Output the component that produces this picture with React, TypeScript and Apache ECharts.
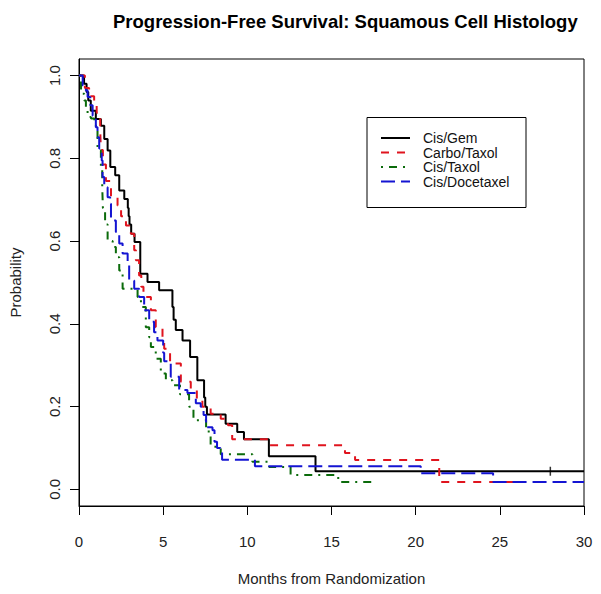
import React, { useEffect, useRef } from "react";
import * as echarts from "echarts";

const FONT = "'Liberation Sans', Arial, sans-serif";

const titleText = "Progression-Free Survival: Squamous Cell Histology";
const xName = "Months from Randomization";
const yName = "Probability";

const seriesNames = ["Cis/Gem", "Carbo/Taxol", "Cis/Taxol", "Cis/Docetaxel"];
const seriesColors = ["#000000", "#e0141e", "#0b6b0b", "#1414d2"];
const seriesDash: (number[] | "solid")[] = ["solid", [8, 8], [2, 6, 8, 6], [14, 6]];

const xTicks = [0, 5, 10, 15, 20, 25, 30];
const yTicks = [0, 0.2, 0.4, 0.6, 0.8, 1.0];

// Cis/Gem
const gemTimes = [0, 0.3, 0.45, 0.55, 0.7, 1.0, 1.3, 1.5, 1.7, 1.86, 2.15, 2.39, 2.69, 2.9, 2.95, 3.0, 3.1, 3.3, 3.64, 4.07, 4.76, 5.55, 5.62, 5.75, 6.15, 6.6, 7.03, 7.43, 7.5, 7.6, 8.71, 9.4, 9.8, 11.28, 14.05, 30];
const gemSurv = [1.0, 0.98, 0.96, 0.94, 0.915, 0.895, 0.879, 0.847, 0.819, 0.779, 0.759, 0.722, 0.702, 0.68, 0.66, 0.64, 0.618, 0.598, 0.521, 0.501, 0.481, 0.441, 0.41, 0.385, 0.36, 0.32, 0.264, 0.222, 0.2, 0.181, 0.159, 0.139, 0.121, 0.08, 0.044, 0.044];
const gemCensor = [[28.0, 0.044]];

// Carbo/Taxol
const carboTimes = [0, 0.35, 0.6, 0.9, 1.05, 1.26, 1.3, 1.42, 1.6, 1.9, 2.29, 2.5, 2.79, 3.08, 3.28, 3.38, 3.57, 3.7, 3.83, 4.27, 4.56, 4.96, 5.06, 5.41, 6.05, 6.64, 7.0, 7.33, 7.82, 8.42, 8.85, 9.1, 11.28, 15.8, 16.4, 21.4, 26.2];
const carboSurv = [1.0, 0.97, 0.95, 0.93, 0.91, 0.867, 0.82, 0.785, 0.745, 0.706, 0.686, 0.66, 0.638, 0.618, 0.578, 0.554, 0.517, 0.49, 0.465, 0.433, 0.392, 0.36, 0.34, 0.304, 0.26, 0.244, 0.22, 0.2, 0.183, 0.171, 0.155, 0.121, 0.107, 0.088, 0.071, 0.018, 0.018];

// Cis/Taxol
const taxolTimes = [0, 0.12, 0.31, 0.41, 0.51, 0.71, 0.91, 1.1, 1.3, 1.38, 1.42, 1.55, 1.7, 2.0, 2.19, 2.39, 2.59, 3.48, 3.68, 3.97, 4.17, 4.27, 4.56, 4.86, 5.16, 5.55, 6.0, 6.54, 6.8, 7.55, 7.82, 8.42, 10.3, 11.3, 12.57, 15.4, 17.45];
const taxolSurv = [1.0, 0.956, 0.94, 0.92, 0.9, 0.896, 0.879, 0.819, 0.779, 0.73, 0.68, 0.64, 0.6, 0.586, 0.561, 0.529, 0.485, 0.465, 0.441, 0.392, 0.368, 0.344, 0.316, 0.28, 0.264, 0.252, 0.23, 0.2, 0.167, 0.14, 0.103, 0.085, 0.067, 0.054, 0.035, 0.018, 0.018];

// Cis/Docetaxel
const doceTimes = [0, 0.22, 0.41, 0.51, 0.67, 0.81, 1.0, 1.1, 1.2, 1.35, 1.4, 1.5, 1.7, 1.85, 1.9, 2.19, 2.39, 2.59, 2.89, 2.98, 3.28, 3.57, 3.87, 4.17, 4.46, 4.66, 5.0, 5.06, 5.45, 5.95, 6.44, 6.94, 7.23, 7.4, 7.55, 7.93, 8.05, 8.2, 8.4, 8.5, 10.45, 20.3, 24.6, 30];
const doceSurv = [1.0, 0.976, 0.964, 0.948, 0.928, 0.903, 0.875, 0.851, 0.824, 0.795, 0.755, 0.73, 0.706, 0.69, 0.65, 0.622, 0.594, 0.57, 0.546, 0.505, 0.485, 0.465, 0.433, 0.405, 0.38, 0.36, 0.33, 0.31, 0.272, 0.24, 0.233, 0.208, 0.2, 0.18, 0.15, 0.143, 0.115, 0.1, 0.09, 0.072, 0.056, 0.039, 0.018, 0.018];

const allTimes = [gemTimes, carboTimes, taxolTimes, doceTimes];
const allSurv = [gemSurv, carboSurv, taxolSurv, doceSurv];

const legendRows = [138, 152.5, 167, 181.5];

export default function App() {
  const ref = useRef<HTMLDivElement>(null);
  useEffect(() => {
    if (!ref.current) return;
    const chart = echarts.init(ref.current, null, { renderer: "svg" });
    const lineSeries = seriesNames.map((name, i) => ({
      name,
      type: "line",
      step: "end",
      showSymbol: false,
      symbol: "none",
      data: allTimes[i].map((t, j) => [t, allSurv[i][j]]),
      lineStyle: { color: seriesColors[i], width: 2, type: seriesDash[i] },
      itemStyle: { color: seriesColors[i] },
      z: 2 + i,
    }));
    const legendGraphics: any[] = [
      {
        type: "rect",
        shape: { x: 367, y: 117.5, width: 159, height: 90 },
        style: { fill: "#fff", stroke: "#000", lineWidth: 1 },
      },
    ];
    seriesNames.forEach((name, i) => {
      legendGraphics.push({
        type: "line",
        shape: { x1: 381, y1: legendRows[i], x2: 410, y2: legendRows[i] },
        style: {
          stroke: seriesColors[i],
          lineWidth: 2,
          lineDash: seriesDash[i] === "solid" ? null : seriesDash[i],
        },
      });
      legendGraphics.push({
        type: "text",
        x: 423,
        y: legendRows[i],
        style: {
          text: name,
          font: `14px ${FONT}`,
          lineHeight: 13,
          fill: "#111",
          verticalAlign: "middle",
          align: "left",
        },
      });
    });
    const option: any = {
      animation: false,
      backgroundColor: "#ffffff",
      title: {
        text: titleText,
        left: 108,
        top: 7,
        textStyle: { fontFamily: FONT, fontWeight: "bold", fontSize: 18.5, color: "#000" },
      },
      grid: {
        left: 78,
        right: 17,
        top: 59,
        bottom: 88,
        show: true,
        borderColor: "#000",
        borderWidth: 1,
        backgroundColor: "transparent",
      },
      xAxis: {
        type: "value",
        min: 0,
        max: 30,
        interval: 5,
        name: xName,
        nameLocation: "middle",
        nameGap: 65,
        nameTextStyle: { fontFamily: FONT, fontSize: 15, color: "#222" },
        axisLine: { show: true, onZero: false, lineStyle: { color: "#000", width: 1 } },
        axisTick: { show: true, length: 9, lineStyle: { color: "#000" } },
        axisLabel: {
          margin: 28,
          fontFamily: FONT,
          fontSize: 15,
          color: "#222",
          customValues: xTicks,
        },
        splitLine: { show: false },
      },
      yAxis: {
        type: "value",
        min: -0.04,
        max: 1.04,
        name: yName,
        nameLocation: "middle",
        nameRotate: 90,
        nameGap: 56,
        nameTextStyle: { fontFamily: FONT, fontSize: 15, color: "#222" },
        axisLine: { show: true, onZero: false, lineStyle: { color: "#000", width: 1 } },
        axisTick: { show: true, length: 9, lineStyle: { color: "#000" }, customValues: yTicks },
        axisLabel: {
          rotate: 90,
          margin: 17,
          fontFamily: FONT,
          fontSize: 15,
          color: "#222",
          customValues: yTicks,
          formatter: (v: number) => v.toFixed(1),
        },
        splitLine: { show: false },
      },
      series: [
        ...lineSeries,
        {
          name: "Cis/Gem censored",
          type: "scatter",
          data: gemCensor,
          symbol: "rect",
          symbolSize: [1.5, 9],
          itemStyle: { color: "#000" },
          z: 10,
        },
      ],
      graphic: legendGraphics,
    };
    chart.setOption(option);
    return () => chart.dispose();
  }, []);
  return (
    <div
      ref={ref}
      style={{ position: "fixed", left: 0, top: 0, width: 601, height: 594 }}
    />
  );
}
